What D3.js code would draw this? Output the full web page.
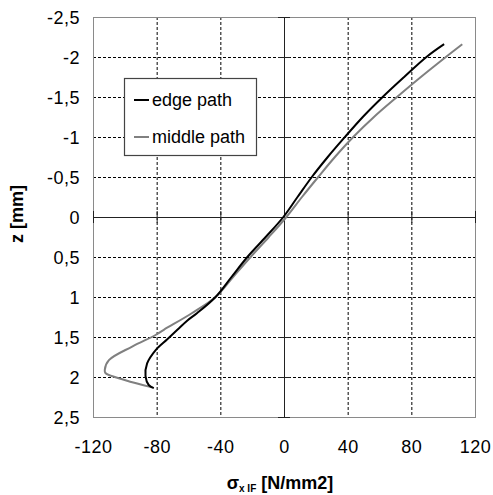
<!DOCTYPE html>
<html><head><meta charset="utf-8">
<script src="https://cdn.jsdelivr.net/npm/d3@7"></script>
<style>
html,body{margin:0;padding:0;background:#fff;}
text{font-family:"Liberation Sans",Arial,sans-serif;}
</style></head>
<body><svg id="c" width="493" height="495"></svg>
<script>
const xTicks = [-120, -80, -40, 0, 40, 80, 120];
const yTicks = [-2.5, -2, -1.5, -1, -0.5, 0, 0.5, 1, 1.5, 2, 2.5];
const edgeZ = [-2.16, -2.0, -1.75, -1.5, -1.25, -1.0, -0.75, -0.5, -0.25, 0, 0.25, 0.5, 0.75, 1.0, 1.2, 1.29, 1.41, 1.53, 1.66, 1.83, 1.99, 2.1, 2.14];
const edgeX = [100.6, 89.5, 75.5, 62, 49.5, 38.3, 27.5, 17.5, 8.5, -0.4, -11.5, -23, -33, -43, -54.5, -60.5, -67, -73.5, -80.5, -86, -87, -85, -81.8];
const midZ = [-2.16, -2.0, -1.75, -1.5, -1.25, -1.0, -0.75, -0.5, -0.25, 0, 0.25, 0.5, 0.75, 1.0, 1.2, 1.41, 1.475, 1.62, 1.79, 1.91, 1.95, 2.04, 2.13];
const midX = [112, 101.7, 86, 71, 56.5, 43.5, 32, 21.5, 11.3, 1.5, -9.5, -21, -32, -43, -57.7, -75.5, -80.7, -95.4, -110, -112.6, -112.2, -99.6, -82.8];
const seriesNames = ["edge path", "middle path"];
const seriesColors = ["#000000", "#808080"];

const svg = d3.select("#c");
const L = 93, R = 475, T = 17, B = 417;
const x = d3.scaleLinear().domain([-120, 120]).range([L, R]);
const y = d3.scaleLinear().domain([-2.5, 2.5]).range([T, B]);
const fmt = d => String(d).replace(".", ",");

// grid
const g = svg.append("g");
g.selectAll(".gx").data(xTicks.filter(d => d !== 0 && Math.abs(d) !== 120)).enter().append("line")
  .attr("x1", d => x(d) + 0.5).attr("x2", d => x(d) + 0.5).attr("y1", T).attr("y2", B)
  .attr("stroke", "#000").attr("stroke-width", 1).attr("stroke-dasharray", "3,2");
g.selectAll(".gy").data(yTicks.filter(d => d !== 0 && Math.abs(d) !== 2.5)).enter().append("line")
  .attr("y1", d => y(d) + 0.5).attr("y2", d => y(d) + 0.5).attr("x1", L).attr("x2", R)
  .attr("stroke", "#000").attr("stroke-width", 1).attr("stroke-dasharray", "3,2");

// frame
svg.append("rect").attr("x", L + 0.5).attr("y", T + 0.5).attr("width", R - L).attr("height", B - T)
  .attr("fill", "none").attr("stroke", "#8a8a8a").attr("stroke-width", 1);

// zero axes with ticks
const ax = svg.append("g").attr("transform", `translate(0,${y(0)})`)
  .call(d3.axisBottom(x).tickValues(xTicks).tickSize(6).tickSizeOuter(0).tickFormat(""));
ax.select(".domain").remove();
ax.selectAll(".tick line").attr("y1", -6).attr("y2", 6).attr("stroke", "#222");
svg.append("line").attr("x1", L).attr("x2", R).attr("y1", y(0) + 0.5).attr("y2", y(0) + 0.5).attr("stroke", "#222");
const ay = svg.append("g").attr("transform", `translate(${x(0)},0)`)
  .call(d3.axisLeft(y).tickValues(yTicks).tickSize(6).tickSizeOuter(0).tickFormat(""));
ay.select(".domain").remove();
ay.selectAll(".tick line").attr("x1", -6).attr("x2", 6).attr("stroke", "#222");
svg.append("line").attr("y1", T).attr("y2", B).attr("x1", x(0) + 0.5).attr("x2", x(0) + 0.5).attr("stroke", "#222");

// tick labels
const xl = svg.append("g").attr("transform", `translate(0,${B})`)
  .call(d3.axisBottom(x).tickValues(xTicks).tickSize(0).tickPadding(0).tickFormat(fmt));
xl.select(".domain").remove();
xl.selectAll("text").attr("font-size", 18).attr("letter-spacing", 0.5).attr("dy", null).attr("y", 36).attr("fill", "#000")
  .attr("font-family", "Liberation Sans, Arial, sans-serif");
const yl = svg.append("g").attr("transform", `translate(${L},0)`)
  .call(d3.axisLeft(y).tickValues(yTicks).tickSize(0).tickPadding(0).tickFormat(fmt));
yl.select(".domain").remove();
yl.selectAll("text").attr("font-size", 18).attr("letter-spacing", 0.5).attr("x", -13).attr("dy", "0.35em").attr("fill", "#000")
  .attr("font-family", "Liberation Sans, Arial, sans-serif");

// lines
const line = d3.line().x(d => x(d[0])).y(d => y(d[1])).curve(d3.curveCatmullRom.alpha(0.5));
const series = [d3.zip(edgeX, edgeZ), d3.zip(midX, midZ)];
[1, 0].forEach(i => {
  svg.append("path").datum(series[i]).attr("d", line).attr("fill", "none")
    .attr("stroke", seriesColors[i]).attr("stroke-width", 2).attr("stroke-linejoin", "round");
});

// legend
const lg = svg.append("g");
lg.append("rect").attr("x", 124.5).attr("y", 78.5).attr("width", 132).attr("height", 77)
  .attr("fill", "#fff").attr("stroke", "#444").attr("stroke-width", 1.2);
seriesNames.forEach((n, i) => {
  const yy = 100 + i * 37;
  lg.append("line").attr("x1", 134).attr("x2", 149).attr("y1", yy).attr("y2", yy)
    .attr("stroke", seriesColors[i]).attr("stroke-width", 2);
  lg.append("text").attr("x", 152).attr("y", yy).attr("dy", "0.35em").attr("font-size", 18).text(n);
});

// axis titles
svg.append("text").attr("transform", `translate(23,214) rotate(-90)`).attr("text-anchor", "middle")
  .attr("font-size", 18).attr("font-weight", "bold").text("z [mm]");
const xt = svg.append("text").attr("x", 280).attr("y", 489).attr("text-anchor", "middle")
  .attr("font-size", 18).attr("font-weight", "bold");
xt.append("tspan").text("σ");
xt.append("tspan").attr("font-size", 10).attr("dy", 3).text("x IF");
xt.append("tspan").attr("dy", -3).text(" [N/mm2]");
</script></body></html>
